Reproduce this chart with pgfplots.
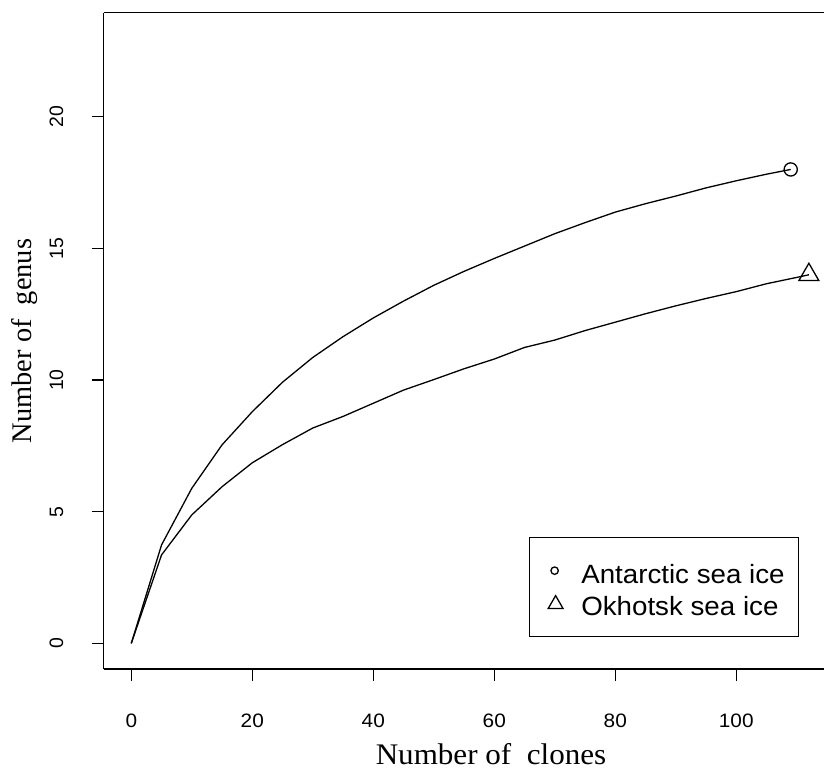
\documentclass[border=0pt]{standalone}
\usepackage{fontspec}
\setmainfont{Liberation Serif}
\newfontfamily\xlabfont{Liberation Serif}[FakeStretch=1.04]
\newfontfamily\sansx{Liberation Sans}[FakeStretch=1.07]
\newfontfamily\sansy{Liberation Sans}
\newfontfamily\sansl{Liberation Sans}[FakeStretch=1.05]
\usepackage{pgfplots}
\pgfplotsset{compat=1.18}
\pgfplotstableread{
x y
0 0
5 3.74
10 5.89
15 7.54
20 8.80
25 9.92
30 10.86
35 11.65
40 12.36
45 13.00
50 13.60
55 14.13
60 14.62
65 15.09
70 15.56
75 15.98
80 16.38
85 16.70
90 16.99
95 17.30
100 17.57
105 17.82
109 18
}\antarctic
\pgfplotstableread{
x y
0 0
5 3.36
10 4.88
15 5.95
20 6.86
25 7.55
30 8.18
35 8.62
40 9.12
45 9.62
50 10.02
55 10.43
60 10.80
65 11.24
70 11.52
75 11.88
80 12.20
85 12.52
90 12.82
95 13.10
100 13.36
105 13.66
110 13.90
112 14
}\okhotsk
\begin{document}
\begin{tikzpicture}
\begin{axis}[
  at={(0,0)}, anchor=south west,
  scale only axis, width=722.1bp, height=656.2bp,
  xmin=-4.56, xmax=114.8, ymin=-0.972, ymax=23.95,
  axis x line=box, axis y line=left,
  xtick pos=left, ytick pos=left,
  axis line style={-, line width=1.4bp, black},
  every outer x axis line/.append style={-},
  every outer y axis line/.append style={-},
  xtick={0,20,...,100}, ytick={0,5,...,20},
  minor tick num=0,
  tick align=outside, major tick length=12bp,
  tick style={line width=1.3bp, black},
  /pgf/number format/assume math mode=true,
  xticklabel style={font=\fontsize{19.5}{20}\sansx, anchor=base},
  xticklabel shift=46bp,
  yticklabel style={font=\fontsize{19.5}{20}\sansy, rotate=90, anchor=base},
  yticklabel shift=28.7bp,
  xlabel={Number of\ \ clones},
  ylabel={Number of\ \ genus},
  every axis x label/.style={at={(axis description cs:0,0)}, xshift=387.3bp, yshift=-95.5bp, anchor=base, inner sep=0pt, text depth=0pt, font=\fontsize{30}{36}\xlabfont},
  every axis y label/.style={at={(axis description cs:0,0.5)}, xshift=-72bp, rotate=90, anchor=base, font=\fontsize{28.5}{34}\selectfont},
  legend cell align=left,
  legend style={at={(0.589,0.2016)}, anchor=north west, draw=black, line width=1.3bp,
    inner xsep=14bp, inner ysep=17.35bp, row sep=0pt, column sep=14bp,
    font=\fontsize{26.5}{30}\sansl,
    nodes={inner sep=0pt, text height=28.65bp, text depth=3.65bp, anchor=base west}},
]
\addplot[black, line width=1.3bp, forget plot] table[x=x,y=y] {\antarctic};
\addplot[black, line width=1.3bp, forget plot] table[x=x,y=y] {\okhotsk};
\addplot[black, only marks, mark=o, mark size=6.6bp, line width=1.3bp,
  legend image code/.code={\path (0bp,0bp) (22.3bp,0bp); \draw[black, line width=1.3bp, mark=o, mark size=3.7bp] plot coordinates {(10.3bp,12.7bp)};}]
  coordinates {(109,18)};
\addlegendentry{Antarctic sea ice}
\addplot[black, only marks, mark=triangle, mark size=11.5bp, line width=1.3bp,
  legend image code/.code={\path (0bp,0bp) (22.3bp,0bp); \draw[black, line width=1.3bp, mark=triangle, mark size=8.5bp] plot coordinates {(11.3bp,11.5bp)};}]
  coordinates {(112,14)};
\addlegendentry{Okhotsk sea ice}
\end{axis}
\pgfresetboundingbox
\useasboundingbox (-103.7bp,-102bp) rectangle (720.3bp,669bp);
\end{tikzpicture}
\end{document}
